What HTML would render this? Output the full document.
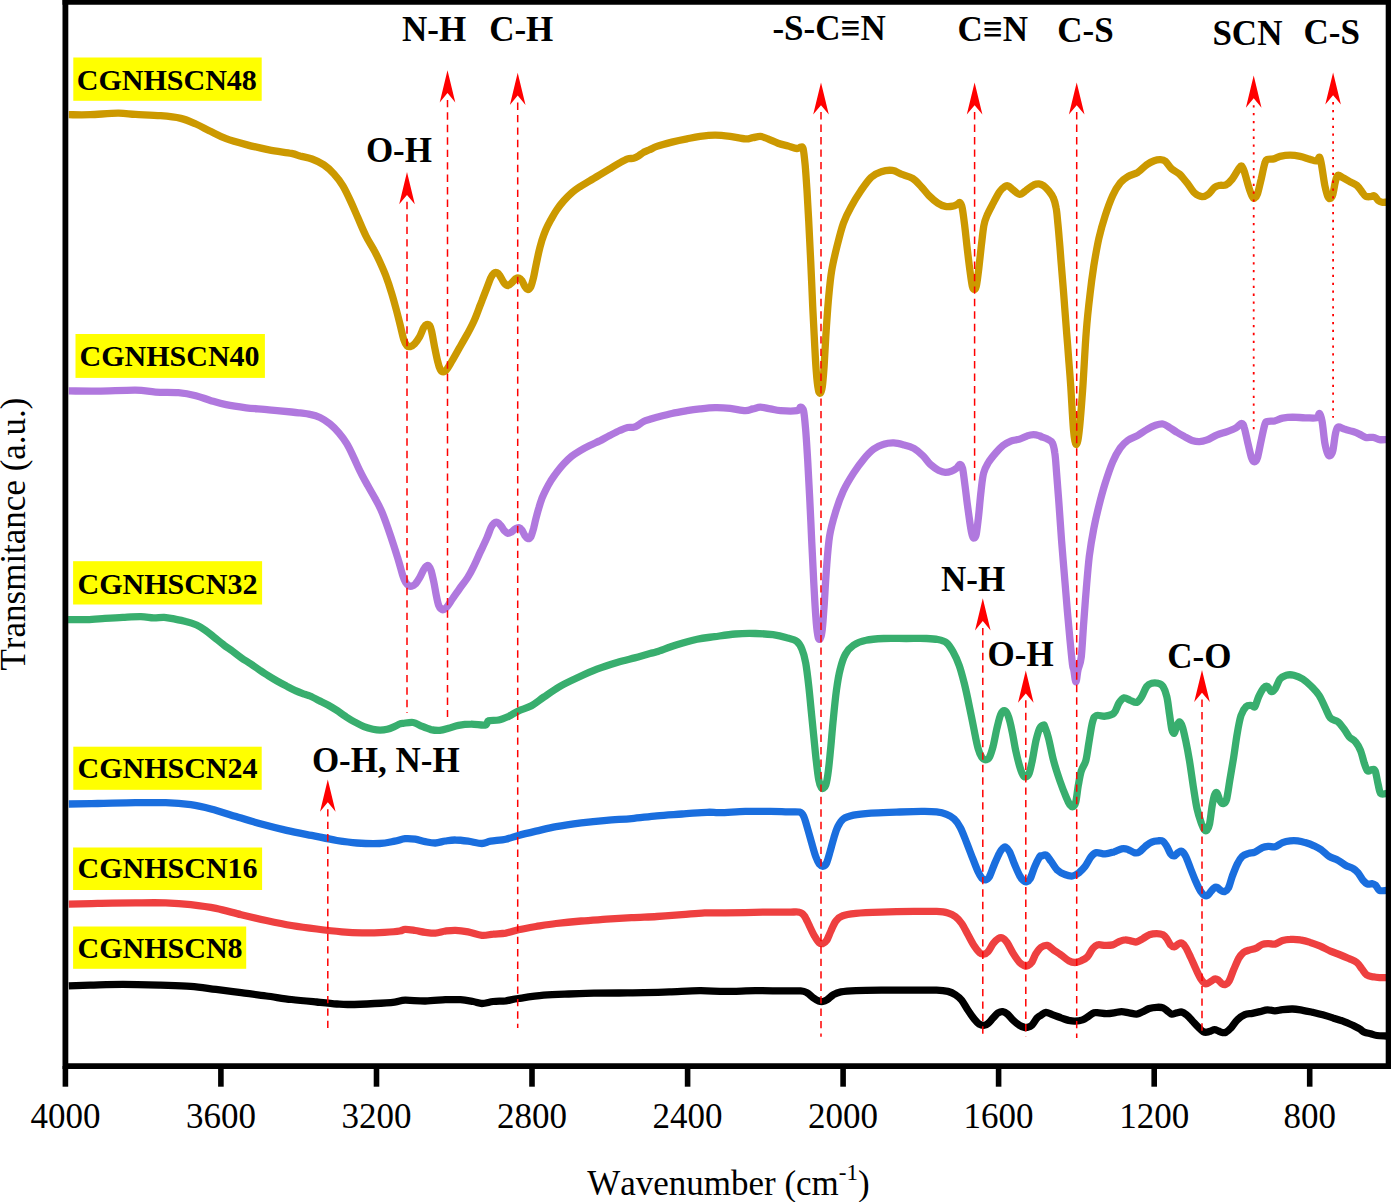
<!DOCTYPE html>
<html><head><meta charset="utf-8"><title>FTIR spectra</title>
<style>
html,body{margin:0;padding:0;background:#fff;}
svg{display:block;}
text{font-family:"Liberation Serif","Times New Roman",serif;fill:#000;font-kerning:none;}
.b{font-weight:bold;}
.c{fill:none;stroke-width:7.3;stroke-linejoin:round;stroke-linecap:butt;}
.d{stroke:#f00;stroke-width:1.5;stroke-dasharray:7.4 5.05;fill:none;}
.dt{stroke:#f00;stroke-width:1.8;stroke-dasharray:2.3 5.55;fill:none;}
.ah{fill:#f00;}
</style></head><body>
<svg width="1391" height="1202" viewBox="0 0 1391 1202">
<rect x="0" y="0" width="1391" height="1202" fill="#fff"/>
<path class="c" stroke="#CC9900" d="M68.8 114.7C72.4 114.7 82.0 114.9 90.2 114.7C98.4 114.4 110.3 113.2 117.9 113.2C125.4 113.1 128.4 114.0 135.5 114.4C142.6 114.8 153.1 115.0 160.7 115.7C168.2 116.3 174.9 117.0 180.8 118.4C186.7 119.8 190.8 121.8 195.9 124.0C200.9 126.2 205.9 129.1 211.0 131.5C216.0 134.0 220.2 136.4 226.1 138.6C232.0 140.8 239.1 142.7 246.2 144.6C253.3 146.5 261.3 148.4 268.9 149.9C276.4 151.4 286.3 152.4 291.5 153.4C296.7 154.4 296.6 155.0 300.0 156.0C303.4 156.9 308.0 157.5 312.0 159.0C316.0 160.5 320.3 162.5 323.9 164.9C327.6 167.4 330.8 170.4 333.9 173.9C337.1 177.4 340.1 181.2 342.9 185.9C345.7 190.6 348.4 196.5 350.9 201.9C353.4 207.2 355.4 212.2 357.9 217.8C360.4 223.5 363.2 230.5 365.9 235.8C368.5 241.1 371.5 245.4 373.8 249.8C376.2 254.1 377.8 257.4 379.8 261.7C381.8 266.1 383.8 270.4 385.8 275.7C387.8 281.0 390.0 287.7 391.8 293.7C393.6 299.6 395.3 306.0 396.8 311.6C398.3 317.3 399.6 322.9 400.8 327.6C401.9 332.2 402.8 336.6 403.8 339.6C404.8 342.6 405.7 344.4 406.8 345.6C407.9 346.7 409.0 346.9 410.4 346.6C411.7 346.2 413.2 345.2 414.8 343.6C416.3 341.9 418.2 339.2 419.7 336.6C421.2 333.9 422.6 329.6 423.7 327.6C424.9 325.6 425.7 324.9 426.7 324.6C427.7 324.3 428.9 324.4 429.7 325.6C430.5 326.8 430.9 327.9 431.7 331.6C432.5 335.2 433.7 342.6 434.7 347.5C435.7 352.5 436.8 357.9 437.7 361.5C438.6 365.2 439.4 367.8 440.3 369.5C441.2 371.2 442.2 371.9 443.3 371.9C444.3 371.9 445.3 371.2 446.7 369.5C448.1 367.8 449.5 365.2 451.7 361.5C453.8 357.9 457.0 352.2 459.6 347.5C462.3 342.9 465.1 338.2 467.6 333.6C470.1 328.9 472.6 324.3 474.6 319.6C476.7 314.9 478.8 308.8 480.0 305.6C481.2 302.5 480.8 303.6 482.0 300.6C483.1 297.6 485.5 291.5 487.0 287.6C488.5 283.8 489.8 280.0 490.9 277.6C492.1 275.3 493.0 274.1 493.9 273.3C494.9 272.4 495.9 272.3 496.9 272.7C497.9 273.1 498.8 274.0 499.9 275.7C501.1 277.3 502.6 281.0 503.9 282.6C505.3 284.3 506.6 285.6 507.9 285.6C509.2 285.6 510.6 283.8 511.9 282.6C513.2 281.5 514.7 279.4 515.9 278.6C517.1 277.9 517.9 277.7 518.9 278.1C519.9 278.4 520.9 279.2 521.9 280.6C522.9 282.1 523.9 285.1 524.9 286.6C525.9 288.1 526.9 289.6 527.9 289.6C528.9 289.6 529.9 288.6 530.9 286.6C531.8 284.6 532.6 281.1 533.5 277.6C534.3 274.2 535.0 270.0 535.9 265.7C536.8 261.4 537.9 255.9 538.9 251.7C539.8 247.6 540.7 244.4 541.8 240.7C543.0 237.1 544.3 233.3 545.8 229.8C547.3 226.3 549.0 223.1 550.8 219.8C552.7 216.5 554.6 213.0 556.8 209.8C559.0 206.6 561.3 203.6 563.8 200.8C566.3 198.0 569.1 195.2 571.8 192.8C574.4 190.5 576.8 188.8 579.8 186.8C582.8 184.9 586.4 182.9 589.7 180.9C593.1 178.9 596.4 176.9 599.7 174.9C603.0 172.9 606.4 170.9 609.7 168.9C613.0 166.9 616.7 164.6 619.7 162.9C622.7 161.2 625.3 159.7 627.6 158.9C630.0 158.1 631.8 158.8 633.6 158.3C635.5 157.8 637.0 156.9 638.6 155.9C640.3 154.9 641.7 153.4 643.6 152.3C645.5 151.3 647.8 150.5 650.0 149.5C652.2 148.6 653.1 147.7 656.8 146.4C660.4 145.2 666.9 143.4 671.9 142.1C676.9 140.9 682.3 139.8 687.0 138.9C691.7 137.9 695.3 137.0 700.0 136.4C704.7 135.8 710.1 135.2 715.1 135.2C720.1 135.2 725.2 135.8 730.2 136.4C735.2 137.0 741.5 138.7 745.3 138.9C749.1 139.2 750.3 138.1 752.8 137.7C755.4 137.3 757.9 136.2 760.4 136.4C762.9 136.6 765.0 137.8 767.9 138.9C770.9 140.1 774.7 142.0 778.0 143.2C781.4 144.4 784.9 145.1 788.1 146.0C791.2 146.9 794.8 148.3 796.9 148.5C799.0 148.7 799.6 147.2 800.6 147.2C801.7 147.3 802.4 146.0 803.2 149.0C803.9 152.0 804.5 158.4 805.2 165.4C805.8 172.3 806.4 181.3 807.0 190.5C807.5 199.7 808.1 209.0 808.7 220.7C809.3 232.5 810.1 246.7 810.7 261.0C811.4 275.2 812.1 292.9 812.7 306.3C813.4 319.7 813.9 330.6 814.5 341.5C815.1 352.4 815.6 363.7 816.3 371.7C816.9 379.7 817.6 385.8 818.3 389.3C818.9 392.9 819.6 393.5 820.3 393.1C820.9 392.7 821.7 391.2 822.3 386.8C822.9 382.4 823.5 375.1 824.1 366.7C824.6 358.3 825.1 347.4 825.8 336.5C826.5 325.6 827.4 312.1 828.3 301.2C829.3 290.3 830.1 280.3 831.6 271.1C833.1 261.8 835.2 253.8 837.1 245.9C839.1 237.9 841.1 229.7 843.4 223.2C845.7 216.7 848.0 212.3 851.0 206.9C853.9 201.4 857.7 195.4 861.0 190.5C864.4 185.6 867.8 180.6 871.1 177.4C874.5 174.3 877.6 172.8 881.2 171.7C884.7 170.5 889.1 170.0 892.5 170.4C895.9 170.8 898.0 172.8 901.3 174.2C904.7 175.5 909.3 176.3 912.6 178.4C916.0 180.5 918.7 183.9 921.4 186.8C924.2 189.6 926.3 192.8 929.0 195.6C931.7 198.3 935.1 201.3 937.8 203.1C940.5 204.9 942.8 205.9 945.3 206.4C947.9 206.9 950.9 206.5 952.9 206.1C954.9 205.8 956.0 204.9 957.2 204.4C958.3 203.8 959.1 202.0 959.9 202.6C960.8 203.2 961.4 204.3 962.2 208.1C963.0 212.0 963.8 218.6 964.7 225.8C965.6 232.9 966.6 243.4 967.5 250.9C968.4 258.5 969.2 265.2 970.0 271.1C970.8 276.9 971.6 283.1 972.3 286.1C973.0 289.2 973.6 289.4 974.3 289.4C975.0 289.4 975.5 289.6 976.3 286.1C977.1 282.7 978.0 275.2 978.8 268.5C979.6 261.8 980.5 253.0 981.3 245.9C982.2 238.8 982.9 230.8 983.8 225.8C984.8 220.7 985.3 219.5 986.9 215.7C988.4 211.9 991.1 207.1 993.2 203.1C995.3 199.1 997.6 194.5 999.5 191.8C1001.3 189.1 1003.0 187.7 1004.5 186.8C1005.9 185.8 1006.8 185.4 1008.2 186.0C1009.7 186.5 1011.4 188.6 1013.3 190.0C1015.2 191.4 1017.5 194.2 1019.6 194.3C1021.7 194.4 1024.5 191.4 1025.9 190.5C1027.2 189.6 1026.5 189.8 1027.8 188.9C1029.1 188.0 1032.0 185.8 1033.8 184.9C1035.6 184.1 1037.1 183.8 1038.8 183.9C1040.4 184.1 1042.1 184.8 1043.8 185.9C1045.4 187.1 1047.2 188.9 1048.8 190.9C1050.4 192.9 1052.1 195.1 1053.3 197.9C1054.6 200.7 1055.4 203.9 1056.1 207.9C1056.9 211.9 1057.2 216.5 1057.7 221.8C1058.3 227.2 1058.8 233.5 1059.3 239.8C1059.9 246.1 1060.4 252.8 1060.9 259.8C1061.5 266.7 1062.1 273.7 1062.7 281.7C1063.4 289.7 1064.1 299.0 1064.7 307.6C1065.4 316.3 1066.1 325.0 1066.7 333.6C1067.4 342.2 1068.1 350.9 1068.7 359.5C1069.4 368.2 1069.9 373.7 1070.7 385.5C1071.5 397.2 1072.6 420.1 1073.5 430.0C1074.4 439.9 1075.4 444.6 1076.4 444.6C1077.4 444.6 1078.3 439.0 1079.3 430.0C1080.3 421.0 1081.4 406.8 1082.6 390.4C1083.8 374.0 1085.0 347.4 1086.3 331.3C1087.5 315.2 1088.8 304.5 1090.1 293.6C1091.3 282.7 1092.4 275.1 1093.8 265.9C1095.3 256.7 1097.0 246.6 1098.9 238.2C1100.8 229.8 1102.9 222.7 1105.2 215.6C1107.5 208.4 1110.2 200.9 1112.7 195.4C1115.2 190.0 1117.8 186.0 1120.3 182.8C1122.8 179.7 1124.9 178.3 1127.8 176.6C1130.7 174.8 1134.7 174.2 1137.9 172.3C1141.0 170.3 1144.0 166.7 1146.7 164.7C1149.4 162.8 1151.9 161.5 1154.2 160.7C1156.5 159.9 1158.6 159.6 1160.5 159.7C1162.4 159.8 1163.7 159.9 1165.6 161.4C1167.4 163.0 1169.5 166.9 1171.8 169.0C1174.2 171.1 1176.9 171.7 1179.4 174.0C1181.9 176.3 1184.4 179.7 1187.0 182.8C1189.5 186.0 1192.0 190.6 1194.5 192.9C1197.0 195.2 1199.7 196.5 1202.0 196.7C1204.4 196.9 1206.2 195.7 1208.3 194.2C1210.4 192.6 1212.7 188.8 1214.6 187.4C1216.5 185.9 1217.8 185.8 1219.7 185.4C1221.5 184.9 1223.9 185.9 1226.0 184.9C1228.0 183.8 1230.1 181.7 1232.2 179.1C1234.3 176.4 1237.0 171.2 1238.5 169.0C1240.1 166.8 1240.6 165.6 1241.5 166.0C1242.5 166.4 1243.1 168.1 1244.3 171.5C1245.5 175.0 1247.3 182.4 1248.6 186.6C1249.9 190.8 1251.3 194.8 1252.4 196.7C1253.4 198.6 1254.1 198.4 1254.9 197.9C1255.7 197.5 1256.4 197.3 1257.4 194.2C1258.5 191.0 1259.9 184.3 1261.2 179.1C1262.4 173.8 1263.9 166.0 1265.0 162.7C1266.0 159.4 1266.0 160.1 1267.5 159.4C1268.9 158.8 1271.7 159.4 1273.8 158.9C1275.9 158.4 1277.3 157.0 1280.0 156.4C1282.8 155.8 1286.8 155.2 1290.1 155.2C1293.5 155.2 1296.8 155.7 1300.2 156.4C1303.5 157.1 1307.5 158.7 1310.2 159.4C1313.0 160.2 1315.0 161.3 1316.5 160.9C1318.1 160.6 1318.7 156.5 1319.6 157.2C1320.4 157.9 1320.7 160.5 1321.6 165.2C1322.4 169.9 1323.8 180.1 1324.8 185.4C1325.9 190.6 1326.9 194.5 1327.9 196.7C1328.8 198.9 1329.5 198.9 1330.4 198.4C1331.2 198.0 1332.1 197.0 1332.9 194.2C1333.7 191.4 1334.6 184.7 1335.4 181.6C1336.2 178.4 1336.7 175.9 1337.9 175.3C1339.2 174.7 1340.9 176.7 1343.0 177.8C1345.1 178.9 1348.2 180.8 1350.5 182.1C1352.8 183.3 1354.9 183.8 1356.8 185.4C1358.7 187.0 1360.4 189.8 1361.8 191.7C1363.3 193.5 1364.1 195.3 1365.6 196.2C1367.1 197.0 1369.2 196.7 1370.6 196.7C1372.1 196.6 1373.2 195.3 1374.4 195.9C1375.7 196.6 1376.9 199.4 1378.2 200.5C1379.4 201.5 1380.6 201.9 1382.0 202.2C1383.3 202.5 1385.5 202.2 1386.2 202.2"/>
<path class="c" stroke="#B078DE" d="M68.8 390.9C73.6 390.9 86.6 391.3 97.8 391.1C108.9 391.0 125.8 390.0 135.5 390.1C145.1 390.3 148.5 391.7 155.6 392.1C162.8 392.6 171.6 392.1 178.3 392.6C185.0 393.2 190.4 394.3 195.9 395.7C201.3 397.0 205.9 399.2 211.0 400.7C216.0 402.2 220.2 403.6 226.1 404.7C232.0 405.9 239.1 406.9 246.2 407.8C253.3 408.6 261.3 409.0 268.9 409.8C276.4 410.5 286.3 411.5 291.5 412.0C296.7 412.6 296.9 412.6 300.0 412.9C303.1 413.3 306.7 413.6 310.0 414.4C313.3 415.1 316.6 415.9 320.0 417.5C323.3 419.1 326.8 421.4 329.9 423.9C333.1 426.5 336.1 429.6 338.9 432.9C341.7 436.2 344.4 439.7 346.9 443.9C349.4 448.0 351.6 453.0 353.9 457.9C356.2 462.7 358.5 468.2 360.9 472.8C363.2 477.5 365.4 481.3 367.9 485.8C370.3 490.3 373.5 495.4 375.8 499.8C378.2 504.1 379.8 507.1 381.8 511.7C383.8 516.4 385.8 522.0 387.8 527.7C389.8 533.4 392.0 540.0 393.8 545.7C395.6 551.3 397.3 556.6 398.8 561.6C400.3 566.6 401.6 572.1 402.8 575.6C403.9 579.1 404.8 580.9 405.8 582.6C406.8 584.2 407.8 585.0 408.8 585.6C409.7 586.2 410.3 586.4 411.4 586.2C412.5 585.9 414.0 585.4 415.4 584.0C416.7 582.5 418.3 580.0 419.7 577.6C421.1 575.2 422.6 571.5 423.7 569.6C424.9 567.7 425.9 566.6 426.7 566.0C427.6 565.4 428.0 565.2 428.7 566.0C429.5 566.8 430.3 568.0 431.1 570.6C431.9 573.2 432.8 577.4 433.7 581.6C434.6 585.7 435.5 591.6 436.3 595.5C437.1 599.5 437.9 603.3 438.7 605.5C439.5 607.8 440.5 608.5 441.3 609.1C442.1 609.8 442.7 610.0 443.7 609.5C444.7 609.1 445.8 608.4 447.3 606.5C448.8 604.7 450.6 601.5 452.7 598.5C454.7 595.5 457.2 592.1 459.6 588.6C462.1 585.1 465.3 581.2 467.6 577.6C470.0 573.9 471.6 570.8 473.6 566.6C475.7 562.5 478.6 555.6 480.0 552.6C481.4 549.6 480.8 551.1 482.0 548.6C483.1 546.1 485.5 541.1 487.0 537.6C488.5 534.2 489.8 530.1 490.9 527.7C492.1 525.3 492.9 524.1 493.9 523.3C495.0 522.4 496.4 522.1 497.5 522.5C498.7 522.9 499.8 524.3 500.9 525.7C502.1 527.0 503.2 529.4 504.3 530.7C505.5 531.9 506.7 533.1 507.9 533.3C509.2 533.4 510.6 532.4 511.9 531.7C513.2 530.9 514.3 529.3 515.5 528.7C516.7 528.0 517.8 527.4 518.9 527.7C520.0 527.9 520.9 528.7 521.9 530.1C522.9 531.4 523.9 534.2 524.9 535.7C525.9 537.1 526.9 538.5 527.9 538.6C528.9 538.8 529.9 538.3 530.9 536.7C531.8 535.0 532.6 531.7 533.5 528.7C534.3 525.7 535.0 522.2 535.9 518.7C536.8 515.2 537.9 511.0 538.9 507.7C539.8 504.4 540.7 501.7 541.8 498.7C543.0 495.7 544.3 492.8 545.8 489.8C547.3 486.8 549.0 483.7 550.8 480.8C552.7 477.9 554.6 475.0 556.8 472.2C559.0 469.4 561.3 466.5 563.8 463.8C566.3 461.2 569.1 458.4 571.8 456.2C574.4 454.1 576.8 452.6 579.8 450.8C582.8 449.0 586.4 447.1 589.7 445.5C593.1 443.8 596.4 442.5 599.7 440.9C603.0 439.2 606.4 437.2 609.7 435.5C613.0 433.8 616.7 431.8 619.7 430.5C622.7 429.2 625.3 428.0 627.6 427.5C630.0 427.0 631.8 427.7 633.6 427.3C635.5 426.9 637.0 425.9 638.6 424.9C640.3 423.9 641.7 422.4 643.6 421.5C645.5 420.6 647.8 420.0 650.0 419.3C652.2 418.6 653.1 418.2 656.8 417.2C660.4 416.3 666.9 414.6 671.9 413.5C676.9 412.4 682.3 411.5 687.0 410.7C691.7 409.9 695.3 409.4 700.0 408.9C704.7 408.4 710.1 407.8 715.1 407.7C720.1 407.6 725.2 407.9 730.2 408.4C735.2 408.9 741.5 410.6 745.3 410.7C749.1 410.8 750.3 409.5 752.8 408.9C755.4 408.4 757.5 407.2 760.4 407.2C763.3 407.2 767.1 408.4 770.5 408.9C773.8 409.5 776.1 410.4 780.5 410.7C784.9 411.0 793.5 411.3 796.9 410.7C800.2 410.1 799.5 407.1 800.6 407.2C801.8 407.3 802.8 407.6 803.7 411.4C804.5 415.3 805.0 422.2 805.7 430.3C806.4 438.5 807.0 449.2 807.7 460.5C808.4 471.8 809.0 484.8 809.7 498.3C810.4 511.7 811.1 527.2 811.7 541.0C812.4 554.9 813.1 568.7 813.7 581.3C814.4 593.9 815.1 607.5 815.8 616.5C816.4 625.6 817.1 631.6 817.8 635.4C818.4 639.2 819.1 639.8 819.8 639.2C820.5 638.6 821.3 637.1 822.0 631.6C822.8 626.2 823.3 616.5 824.1 606.5C824.8 596.4 825.4 583.0 826.3 571.2C827.2 559.5 828.0 546.1 829.6 536.0C831.2 525.9 833.6 518.4 835.9 510.9C838.2 503.3 840.5 497.0 843.4 490.7C846.4 484.4 850.1 478.4 853.5 473.1C856.9 467.9 860.2 463.3 863.6 459.3C866.9 455.3 870.3 451.7 873.6 449.2C877.0 446.7 880.3 445.2 883.7 444.2C887.0 443.1 890.4 442.8 893.8 442.9C897.1 443.0 900.5 444.0 903.8 444.9C907.2 445.8 910.7 446.7 913.9 448.4C917.0 450.2 920.0 452.8 922.7 455.5C925.4 458.1 927.5 461.8 930.2 464.3C933.0 466.8 936.5 469.2 939.0 470.6C941.6 471.9 943.2 472.3 945.3 472.4C947.4 472.4 949.8 471.8 951.6 471.1C953.5 470.4 955.3 469.2 956.7 468.1C958.1 466.9 959.0 464.3 959.9 464.3C960.9 464.3 961.7 464.9 962.5 468.1C963.3 471.2 963.9 477.3 964.7 483.2C965.5 489.0 966.4 496.6 967.2 503.3C968.1 510.0 969.2 518.1 970.0 523.4C970.8 528.8 971.6 533.1 972.3 535.5C973.0 537.9 973.6 538.3 974.3 538.0C975.0 537.8 975.6 537.7 976.3 534.0C977.0 530.3 977.8 523.1 978.6 515.9C979.4 508.7 980.2 497.8 981.1 490.7C981.9 483.6 982.4 477.7 983.6 473.1C984.8 468.5 986.1 466.4 988.1 463.0C990.1 459.7 993.2 455.9 995.7 453.0C998.2 450.0 1000.7 447.4 1003.2 445.4C1005.7 443.5 1008.0 442.2 1010.8 441.1C1013.5 440.1 1016.9 440.0 1019.6 439.1C1022.3 438.2 1024.8 436.6 1027.1 435.9C1029.4 435.1 1031.3 434.6 1033.4 434.6C1035.5 434.6 1038.4 435.5 1039.7 435.9C1041.0 436.2 1039.7 436.1 1041.0 436.6C1042.3 437.2 1045.4 438.1 1047.3 439.1C1049.2 440.2 1051.1 440.6 1052.3 442.9C1053.6 445.2 1054.1 447.9 1054.8 453.0C1055.6 458.0 1055.9 464.3 1056.6 473.1C1057.3 481.9 1058.3 494.5 1059.1 505.8C1060.0 517.1 1060.7 528.5 1061.6 541.0C1062.6 553.6 1063.9 569.6 1064.9 581.3C1065.9 593.1 1066.6 601.9 1067.4 611.5C1068.3 621.1 1069.1 630.4 1069.9 639.2C1070.8 648.0 1071.8 659.2 1072.5 664.4C1073.1 669.5 1073.2 667.1 1073.8 670.0C1074.4 672.9 1075.2 681.8 1075.9 681.8C1076.6 681.8 1077.1 674.2 1078.0 670.0C1078.9 665.8 1080.3 664.9 1081.3 656.8C1082.2 648.7 1082.9 632.9 1083.8 621.6C1084.6 610.2 1085.4 599.8 1086.3 588.9C1087.2 578.0 1088.1 566.2 1089.3 556.1C1090.6 546.1 1092.2 536.9 1093.8 528.5C1095.4 520.1 1097.0 513.4 1098.9 505.8C1100.8 498.3 1102.9 490.5 1105.2 483.2C1107.5 475.8 1110.2 467.7 1112.7 461.8C1115.2 455.9 1117.8 451.5 1120.3 447.9C1122.8 444.4 1124.9 442.5 1127.8 440.4C1130.7 438.3 1134.7 437.2 1137.9 435.4C1141.0 433.6 1143.8 431.2 1146.7 429.6C1149.6 427.9 1152.8 426.2 1155.5 425.3C1158.2 424.4 1160.7 423.7 1163.0 424.0C1165.3 424.4 1167.0 425.9 1169.3 427.3C1171.6 428.7 1174.4 430.8 1176.9 432.3C1179.4 433.9 1181.9 435.3 1184.4 436.6C1186.9 438.0 1189.5 439.6 1192.0 440.4C1194.5 441.2 1197.0 441.7 1199.5 441.6C1202.0 441.6 1204.1 441.0 1207.1 439.9C1210.0 438.8 1213.8 436.2 1217.1 434.9C1220.5 433.5 1224.1 432.8 1227.2 431.6C1230.4 430.4 1233.6 429.2 1236.0 427.8C1238.4 426.4 1240.2 423.3 1241.5 423.3C1242.9 423.3 1243.3 424.5 1244.3 427.8C1245.4 431.1 1246.6 437.9 1247.8 442.9C1249.1 447.9 1250.5 454.9 1251.6 458.0C1252.7 461.2 1253.4 461.8 1254.4 461.8C1255.4 461.8 1256.3 461.6 1257.4 458.0C1258.5 454.4 1259.9 446.1 1261.2 440.4C1262.4 434.7 1263.9 427.2 1265.0 424.0C1266.0 420.9 1265.8 422.1 1267.5 421.5C1269.1 421.0 1272.5 421.3 1275.0 420.8C1277.5 420.2 1279.6 418.8 1282.6 418.2C1285.5 417.7 1288.9 417.3 1292.6 417.2C1296.4 417.2 1301.2 417.7 1305.2 417.8C1309.2 417.8 1314.2 418.5 1316.5 417.8C1318.9 417.0 1318.6 412.8 1319.6 413.5C1320.5 414.1 1321.2 416.6 1322.1 421.5C1323.0 426.4 1323.9 437.5 1324.8 442.9C1325.8 448.4 1326.9 452.1 1327.9 454.2C1328.8 456.3 1329.5 456.1 1330.4 455.5C1331.2 454.9 1332.1 454.0 1332.9 450.5C1333.7 446.9 1334.6 438.0 1335.4 434.1C1336.2 430.2 1336.5 427.9 1337.9 427.1C1339.4 426.2 1341.7 428.3 1344.2 429.1C1346.7 429.8 1350.5 430.8 1353.0 431.6C1355.5 432.4 1357.2 433.1 1359.3 434.1C1361.4 435.1 1363.3 436.8 1365.6 437.4C1367.9 437.9 1370.9 437.0 1373.2 437.4C1375.5 437.7 1377.3 439.3 1379.5 439.6C1381.6 440.0 1385.1 439.6 1386.2 439.6"/>
<path class="c" stroke="#38AE6E" d="M68.1 619.6C71.2 619.6 80.8 619.9 87.0 619.6C93.1 619.4 98.9 618.8 104.9 618.4C110.9 618.0 116.9 617.6 122.9 617.3C128.9 617.0 135.8 616.5 140.9 616.6C146.0 616.7 149.6 617.7 153.5 617.9C157.4 618.0 160.6 617.1 164.2 617.3C167.8 617.5 171.4 618.4 175.0 619.1C178.6 619.8 182.2 620.5 185.8 621.5C189.4 622.4 193.3 623.6 196.6 625.0C199.9 626.5 202.6 628.3 205.6 630.4C208.6 632.5 211.6 635.2 214.6 637.6C217.6 640.0 220.6 642.6 223.6 644.8C226.5 647.1 229.5 648.9 232.5 651.1C235.5 653.3 238.5 655.8 241.5 657.9C244.5 660.0 247.5 661.7 250.5 663.7C253.5 665.7 256.5 667.9 259.5 670.0C262.5 672.0 265.5 674.0 268.5 675.9C271.5 677.8 274.5 679.6 277.5 681.3C280.5 683.0 283.5 684.6 286.5 686.1C289.5 687.7 292.4 689.3 295.4 690.6C298.4 692.0 302.0 693.3 304.4 694.2C306.9 695.1 307.6 695.0 310.0 696.0C312.4 697.1 316.0 699.0 318.9 700.5C321.9 702.0 324.9 703.4 327.9 705.0C330.9 706.7 333.9 708.5 336.9 710.4C339.9 712.4 342.9 714.8 345.9 716.7C348.9 718.7 351.9 720.5 354.9 722.1C357.9 723.7 360.9 725.4 363.9 726.6C366.9 727.8 370.2 728.7 372.9 729.3C375.6 729.9 377.7 730.2 380.1 730.2C382.4 730.2 384.8 729.9 387.2 729.3C389.6 728.7 392.3 727.5 394.4 726.6C396.6 725.7 398.5 724.4 400.0 723.9C401.5 723.4 401.0 723.5 403.2 723.3C405.4 723.1 410.3 722.1 413.2 722.5C416.2 723.0 417.9 724.6 420.8 725.8C423.7 727.0 427.7 728.8 430.9 729.6C434.0 730.3 436.7 730.6 439.7 730.4C442.6 730.1 445.3 729.2 448.5 728.3C451.6 727.5 454.8 726.0 458.5 725.3C462.3 724.6 466.7 724.1 471.1 724.1C475.5 724.0 482.0 725.6 484.9 725.1C487.9 724.5 486.4 721.6 488.7 720.8C491.0 720.0 495.4 720.8 498.8 720.0C502.1 719.3 505.5 717.8 508.9 716.3C512.2 714.7 515.1 712.5 518.9 710.7C522.7 709.0 527.3 708.0 531.5 705.7C535.7 703.4 539.5 700.0 544.1 696.9C548.7 693.7 553.7 690.0 559.2 686.8C564.6 683.7 570.5 680.9 576.8 678.0C583.1 675.1 590.2 671.8 596.9 669.2C603.6 666.6 610.8 664.3 617.1 662.4C623.4 660.5 629.2 659.3 634.7 657.9C640.2 656.4 646.3 654.6 650.0 653.6C653.7 652.6 652.3 653.2 656.8 651.8C661.3 650.3 670.2 646.8 676.9 644.7C683.6 642.6 690.8 640.5 697.1 639.2C703.4 637.8 708.3 637.5 714.7 636.7C721.0 635.8 728.5 634.5 735.2 634.0C742.0 633.4 749.1 633.3 755.4 633.5C761.6 633.6 767.7 634.0 773.0 634.7C778.2 635.4 782.8 636.6 786.8 637.8C790.8 638.9 794.4 639.6 796.9 641.5C799.4 643.4 800.4 645.5 801.9 649.1C803.4 652.6 804.6 656.8 805.7 662.9C806.8 669.0 807.8 677.6 808.7 685.6C809.6 693.5 810.4 702.3 811.2 710.7C812.1 719.1 812.9 727.5 813.7 735.9C814.6 744.3 815.4 753.7 816.3 761.0C817.1 768.4 817.9 775.5 818.8 779.9C819.6 784.3 820.5 786.1 821.3 787.5C822.0 788.9 822.5 788.6 823.3 788.2C824.1 787.8 825.0 787.8 825.8 785.0C826.7 782.1 827.5 777.6 828.3 771.1C829.2 764.6 830.0 754.8 830.9 746.0C831.7 737.1 832.4 727.5 833.4 718.3C834.3 709.0 835.3 698.8 836.4 690.6C837.5 682.4 838.6 675.3 840.2 669.2C841.7 663.1 843.2 658.1 845.5 654.1C847.7 650.1 850.1 647.6 853.5 645.3C856.9 643.0 861.0 641.4 866.1 640.3C871.1 639.1 877.0 638.8 883.7 638.5C890.4 638.2 899.2 638.5 906.3 638.5C913.5 638.5 921.2 638.3 926.5 638.5C931.7 638.7 934.4 638.8 937.8 639.5C941.2 640.2 944.1 640.8 946.6 642.8C949.1 644.8 950.8 647.8 952.9 651.6C955.0 655.4 957.3 660.2 959.2 665.4C961.1 670.7 962.5 676.3 964.2 683.0C965.9 689.8 967.6 697.7 969.2 705.7C970.9 713.7 972.8 723.7 974.3 730.9C975.7 738.0 976.8 744.1 978.1 748.5C979.3 752.9 980.6 755.4 981.8 757.3C983.1 759.2 984.4 759.8 985.6 759.8C986.9 759.8 988.1 759.6 989.4 757.3C990.6 755.0 991.9 750.8 993.2 746.0C994.4 741.1 995.7 733.6 996.9 728.3C998.2 723.1 999.4 717.4 1000.7 714.5C1002.0 711.6 1003.2 710.5 1004.5 710.7C1005.7 710.9 1007.0 712.4 1008.2 715.8C1009.5 719.1 1010.8 725.0 1012.0 730.9C1013.3 736.7 1014.5 745.1 1015.8 751.0C1017.1 756.9 1018.4 762.1 1019.6 766.1C1020.8 770.1 1021.8 773.1 1022.9 774.9C1023.9 776.7 1024.8 777.1 1025.9 776.9C1026.9 776.7 1028.1 776.3 1029.1 773.6C1030.2 771.0 1031.0 766.5 1032.2 761.0C1033.3 755.6 1034.7 746.4 1035.9 740.9C1037.2 735.5 1038.5 731.0 1039.7 728.3C1041.0 725.7 1042.6 725.3 1043.5 725.1C1044.3 724.8 1043.9 724.6 1044.8 726.8C1045.6 729.0 1047.1 732.5 1048.5 738.1C1050.0 743.8 1051.7 753.7 1053.6 760.8C1055.5 767.9 1057.8 774.8 1059.9 780.9C1062.0 787.0 1064.5 793.3 1066.2 797.3C1067.8 801.3 1068.8 803.3 1069.9 804.8C1071.1 806.4 1072.0 807.0 1073.0 806.6C1073.9 806.2 1074.8 805.7 1075.7 802.3C1076.6 798.9 1077.3 791.2 1078.2 786.0C1079.2 780.7 1080.0 775.0 1081.3 770.9C1082.5 766.7 1084.5 765.4 1085.8 760.8C1087.0 756.2 1087.7 749.7 1088.8 743.2C1089.9 736.7 1091.3 726.4 1092.6 721.8C1093.8 717.2 1094.3 716.4 1096.4 715.5C1098.5 714.6 1102.2 716.7 1105.2 716.2C1108.1 715.8 1111.7 715.2 1114.0 713.0C1116.3 710.7 1117.3 705.4 1119.0 702.9C1120.7 700.4 1122.2 698.3 1124.0 697.9C1125.9 697.5 1128.2 699.6 1130.3 700.4C1132.4 701.1 1134.7 703.0 1136.6 702.4C1138.5 701.8 1140.0 699.3 1141.7 696.6C1143.3 694.0 1145.0 688.8 1146.7 686.5C1148.4 684.3 1149.8 683.8 1151.7 683.3C1153.6 682.7 1156.1 682.7 1158.0 683.3C1159.9 683.8 1161.6 684.3 1163.0 686.5C1164.5 688.8 1165.8 692.2 1166.8 696.6C1167.9 701.0 1168.5 707.5 1169.3 713.0C1170.2 718.4 1171.0 726.0 1171.8 729.3C1172.7 732.7 1173.5 733.7 1174.4 733.1C1175.2 732.5 1176.0 727.4 1176.9 725.6C1177.7 723.7 1178.5 721.6 1179.4 721.8C1180.3 722.0 1181.4 723.7 1182.4 726.8C1183.5 730.0 1184.5 735.0 1185.7 740.6C1186.9 746.3 1188.2 753.2 1189.5 760.8C1190.7 768.3 1192.0 778.0 1193.2 786.0C1194.5 793.9 1195.6 802.3 1197.0 808.6C1198.4 814.9 1200.3 820.1 1201.5 823.7C1202.8 827.3 1203.6 828.9 1204.6 830.0C1205.5 831.0 1206.2 831.0 1207.1 830.0C1207.9 828.9 1208.8 827.7 1209.6 823.7C1210.4 819.7 1211.3 810.9 1212.1 806.1C1212.9 801.3 1213.8 796.9 1214.6 794.8C1215.5 792.6 1216.2 791.9 1217.1 793.0C1218.1 794.0 1219.1 799.3 1220.2 801.0C1221.2 802.8 1222.4 803.8 1223.4 803.6C1224.5 803.3 1225.4 803.6 1226.5 799.8C1227.5 796.0 1228.6 787.8 1229.7 780.9C1230.9 774.0 1232.2 766.2 1233.5 758.3C1234.8 750.3 1236.0 740.2 1237.3 733.1C1238.5 726.0 1239.6 719.9 1241.0 715.5C1242.5 711.1 1244.4 708.4 1246.1 706.7C1247.8 705.0 1249.7 705.4 1251.1 705.4C1252.6 705.4 1253.6 708.1 1254.9 706.7C1256.1 705.2 1257.2 699.8 1258.7 696.6C1260.1 693.5 1262.2 689.5 1263.7 687.8C1265.2 686.1 1266.2 685.9 1267.5 686.5C1268.7 687.2 1270.0 691.2 1271.2 691.6C1272.5 692.0 1273.6 691.2 1275.0 689.1C1276.5 687.0 1278.2 681.3 1280.0 679.0C1281.9 676.7 1284.0 675.9 1286.3 675.2C1288.6 674.6 1291.2 674.6 1293.9 675.2C1296.6 675.9 1299.8 677.1 1302.7 679.0C1305.6 680.9 1308.8 683.8 1311.5 686.5C1314.2 689.3 1316.8 691.8 1319.1 695.4C1321.4 698.9 1323.5 704.2 1325.3 707.9C1327.2 711.7 1328.3 715.7 1330.4 718.0C1332.5 720.3 1335.6 719.9 1337.9 721.8C1340.2 723.7 1342.3 726.8 1344.2 729.3C1346.1 731.8 1347.4 734.8 1349.2 736.9C1351.1 739.0 1353.7 739.6 1355.5 741.9C1357.4 744.2 1359.1 747.2 1360.6 750.7C1362.0 754.3 1363.2 759.9 1364.3 763.3C1365.5 766.7 1366.4 769.8 1367.6 770.9C1368.9 771.9 1370.6 769.6 1371.9 769.6C1373.2 769.6 1374.1 768.3 1375.2 770.9C1376.2 773.4 1377.3 780.9 1378.2 784.7C1379.1 788.5 1379.4 792.0 1380.7 793.5C1382.1 795.0 1385.3 793.5 1386.2 793.5"/>
<path class="c" stroke="#1A6EDE" d="M68.8 804.0C73.6 803.9 86.6 803.7 97.8 803.5C108.9 803.3 124.2 802.8 135.5 802.7C146.8 802.6 156.5 802.4 165.7 802.7C174.9 803.0 183.3 803.7 190.8 804.7C198.4 805.8 203.4 807.0 211.0 809.0C218.5 811.0 227.8 814.0 236.1 816.5C244.5 819.1 252.9 821.8 261.3 824.1C269.7 826.4 278.1 828.5 286.5 830.4C294.9 832.3 303.3 833.8 311.6 835.4C320.0 837.1 329.3 839.2 336.8 840.5C344.3 841.7 349.8 842.5 356.9 843.0C364.1 843.5 373.3 843.8 379.6 843.5C385.9 843.2 390.4 842.0 394.7 841.2C398.9 840.4 401.7 839.0 405.2 838.7C408.6 838.4 411.9 838.7 415.2 839.2C418.6 839.7 421.9 841.1 425.3 841.7C428.6 842.3 432.0 843.1 435.4 843.0C438.7 842.8 442.1 841.5 445.4 841.0C448.8 840.5 451.7 839.9 455.5 840.0C459.3 840.0 463.7 840.6 468.1 841.2C472.5 841.8 478.1 843.5 481.9 843.5C485.7 843.5 486.7 841.9 490.7 841.2C494.7 840.5 501.2 840.2 505.8 839.2C510.4 838.2 513.4 836.8 518.4 835.4C523.4 834.1 529.7 832.6 536.0 831.1C542.3 829.7 548.6 828.0 556.1 826.6C563.7 825.2 572.9 823.9 581.3 822.8C589.7 821.8 598.1 821.0 606.5 820.3C614.9 819.6 623.3 819.3 631.6 818.6C640.0 817.8 648.4 816.6 656.8 815.8C665.2 815.0 673.6 814.6 682.0 814.0C690.3 813.5 700.8 812.5 707.1 812.3C713.5 812.0 713.8 812.8 720.1 812.6C726.5 812.5 736.9 811.6 745.3 811.4C753.7 811.2 763.3 811.3 770.5 811.4C777.6 811.5 783.2 811.8 788.1 811.9C792.9 812.0 796.8 811.4 799.4 812.1C802.0 812.9 802.3 813.6 803.7 816.4C805.1 819.2 806.3 824.4 807.7 829.0C809.1 833.6 810.6 839.5 812.0 844.1C813.3 848.7 814.5 853.3 815.8 856.7C817.0 860.0 818.3 862.6 819.5 864.2C820.8 865.8 822.1 866.4 823.3 866.2C824.5 866.0 825.4 865.4 826.6 863.0C827.7 860.5 828.9 855.8 830.1 851.6C831.3 847.4 832.6 842.0 833.9 837.8C835.2 833.6 836.3 829.6 837.9 826.5C839.5 823.3 840.8 820.8 843.4 818.9C846.0 817.0 848.9 816.1 853.5 815.1C858.1 814.2 864.0 813.6 871.1 813.1C878.2 812.6 887.9 812.4 896.3 812.1C904.7 811.8 914.7 811.4 921.4 811.4C928.2 811.3 932.3 811.4 936.5 811.9C940.7 812.4 943.7 813.2 946.6 814.4C949.5 815.6 951.8 816.7 954.1 818.9C956.5 821.1 958.3 823.7 960.4 827.7C962.5 831.7 964.6 837.6 966.7 842.8C968.8 848.1 971.1 854.4 973.0 859.2C974.9 864.0 976.6 868.6 978.1 871.8C979.5 874.9 980.6 876.7 981.8 878.1C983.1 879.4 984.4 880.0 985.6 879.8C986.9 879.6 987.9 879.4 989.4 876.8C990.8 874.2 992.7 868.2 994.4 864.2C996.1 860.2 998.0 855.6 999.5 852.9C1000.9 850.2 1002.2 848.8 1003.2 847.9C1004.3 846.9 1004.7 846.5 1005.7 847.1C1006.8 847.7 1008.0 848.8 1009.5 851.6C1011.0 854.5 1012.9 860.2 1014.5 864.2C1016.2 868.2 1018.1 872.8 1019.6 875.5C1021.0 878.3 1022.2 879.5 1023.4 880.6C1024.5 881.6 1025.5 882.1 1026.6 881.8C1027.8 881.5 1028.8 881.3 1030.2 878.8C1031.5 876.3 1033.1 870.4 1034.7 866.7C1036.3 863.0 1038.7 858.4 1039.7 856.7C1040.8 854.9 1039.9 856.7 1041.0 856.4C1042.1 856.2 1044.4 854.3 1046.0 855.1C1047.7 856.0 1049.2 858.9 1051.1 861.4C1053.0 864.0 1055.1 868.1 1057.4 870.2C1059.7 872.4 1062.4 873.6 1064.9 874.5C1067.4 875.5 1070.1 876.3 1072.5 876.0C1074.8 875.7 1076.7 874.4 1078.8 872.8C1080.8 871.2 1082.9 869.2 1085.0 866.5C1087.1 863.7 1089.4 858.7 1091.3 856.4C1093.2 854.1 1094.1 853.0 1096.4 852.6C1098.7 852.2 1102.2 854.0 1105.2 853.9C1108.1 853.8 1111.2 852.7 1114.0 851.9C1116.7 851.0 1119.2 849.3 1121.5 848.9C1123.8 848.4 1125.7 848.7 1127.8 849.4C1129.9 850.0 1132.2 852.2 1134.1 852.6C1136.0 853.1 1137.3 853.2 1139.1 852.1C1141.0 851.1 1143.3 848.0 1145.4 846.3C1147.5 844.7 1149.6 843.0 1151.7 842.1C1153.8 841.1 1156.1 840.9 1158.0 840.8C1159.9 840.7 1161.6 840.4 1163.0 841.3C1164.5 842.2 1165.6 844.2 1166.8 846.3C1168.1 848.4 1169.3 852.3 1170.6 853.9C1171.8 855.5 1173.1 856.1 1174.4 855.9C1175.6 855.7 1176.9 853.4 1178.1 852.6C1179.4 851.9 1180.7 850.7 1181.9 851.4C1183.2 852.0 1184.2 853.5 1185.7 856.4C1187.2 859.3 1189.0 864.8 1190.7 869.0C1192.4 873.2 1194.1 877.8 1195.8 881.6C1197.4 885.3 1199.3 889.3 1200.8 891.6C1202.3 893.9 1203.4 894.8 1204.6 895.4C1205.7 896.0 1206.5 896.0 1207.6 895.4C1208.6 894.8 1209.8 892.9 1210.8 891.6C1211.9 890.4 1213.1 888.6 1214.1 887.9C1215.2 887.1 1216.0 886.9 1217.1 887.4C1218.3 887.8 1219.7 889.7 1220.9 890.4C1222.2 891.1 1223.4 892.1 1224.7 891.6C1225.9 891.2 1227.2 890.4 1228.5 887.9C1229.7 885.3 1230.8 880.5 1232.2 876.5C1233.7 872.6 1235.6 867.3 1237.3 864.0C1239.0 860.6 1240.4 858.2 1242.3 856.4C1244.2 854.6 1246.5 854.1 1248.6 853.4C1250.7 852.7 1252.6 853.1 1254.9 852.1C1257.2 851.2 1260.1 848.6 1262.4 847.6C1264.7 846.6 1266.6 846.5 1268.7 846.3C1270.8 846.2 1272.7 847.5 1275.0 846.8C1277.3 846.2 1280.1 843.6 1282.6 842.6C1285.1 841.6 1287.6 841.1 1290.1 840.8C1292.6 840.5 1295.2 840.5 1297.7 840.8C1300.2 841.1 1302.5 841.7 1305.2 842.6C1307.9 843.4 1311.3 844.6 1314.0 845.8C1316.7 847.1 1319.1 848.4 1321.6 850.1C1324.1 851.9 1326.4 854.7 1329.1 856.4C1331.8 858.1 1335.2 858.7 1337.9 860.2C1340.7 861.6 1343.0 863.8 1345.5 865.2C1348.0 866.6 1350.9 867.2 1353.0 868.5C1355.1 869.7 1356.4 870.8 1358.1 872.8C1359.7 874.7 1361.5 878.4 1363.1 880.3C1364.7 882.2 1366.2 883.5 1367.6 884.1C1369.1 884.6 1370.6 883.4 1371.9 883.6C1373.2 883.8 1374.4 884.2 1375.7 885.3C1376.9 886.5 1377.7 889.5 1379.5 890.4C1381.2 891.2 1385.1 890.4 1386.2 890.4"/>
<path class="c" stroke="#EE4040" d="M68.8 904.1C73.6 904.0 86.6 903.6 97.8 903.4C108.9 903.2 124.2 902.9 135.5 902.9C146.8 902.8 156.5 902.6 165.7 902.9C174.9 903.2 182.5 903.7 190.8 904.6C199.2 905.6 207.6 906.7 216.0 908.4C224.4 910.1 232.8 912.7 241.2 914.7C249.6 916.7 258.0 918.7 266.3 920.5C274.7 922.3 283.1 924.1 291.5 925.5C299.9 926.9 308.3 928.0 316.7 929.0C325.1 930.1 334.3 931.2 341.8 931.8C349.4 932.4 354.8 932.7 362.0 932.8C369.1 932.9 378.3 932.6 384.6 932.3C390.9 932.0 396.3 931.6 399.7 931.0C403.1 930.5 402.6 929.4 405.2 929.3C407.7 929.2 411.9 930.0 415.2 930.5C418.6 931.0 421.9 931.9 425.3 932.3C428.6 932.7 432.0 933.3 435.4 933.1C438.7 932.9 442.1 931.5 445.4 931.0C448.8 930.6 451.7 930.2 455.5 930.3C459.3 930.4 463.7 931.0 468.1 931.8C472.5 932.6 477.7 934.9 481.9 935.3C486.1 935.7 489.3 934.4 493.2 934.1C497.2 933.7 501.6 933.8 505.8 933.1C510.0 932.3 513.4 930.9 518.4 929.8C523.4 928.7 529.7 927.6 536.0 926.5C542.3 925.5 548.6 924.4 556.1 923.5C563.7 922.6 572.9 921.7 581.3 921.0C589.7 920.3 598.1 919.8 606.5 919.2C614.9 918.7 623.3 918.2 631.6 917.7C640.0 917.2 648.4 917.0 656.8 916.5C665.2 915.9 674.0 915.3 682.0 914.7C689.9 914.1 697.4 913.2 704.6 912.9C711.8 912.6 715.4 913.1 725.2 912.9C734.9 912.8 752.4 912.3 762.9 912.2C773.4 912.0 782.0 912.2 788.1 912.2C794.2 912.2 796.7 911.5 799.4 912.2C802.1 912.8 802.8 913.6 804.4 916.0C806.1 918.3 807.8 922.7 809.5 926.0C811.1 929.4 812.9 933.4 814.5 936.1C816.0 938.8 817.4 941.1 818.8 942.4C820.2 943.6 821.5 943.9 822.8 943.6C824.1 943.3 825.2 942.7 826.6 940.6C827.9 938.5 829.3 934.3 830.9 931.0C832.4 927.8 834.0 923.5 835.9 921.0C837.8 918.5 838.8 917.2 842.2 916.0C845.5 914.7 849.5 914.1 856.0 913.4C862.5 912.8 871.5 912.5 881.2 912.2C890.8 911.8 904.7 911.5 913.9 911.4C923.1 911.3 930.9 911.2 936.5 911.4C942.2 911.7 944.7 912.0 947.9 912.9C951.0 913.8 953.1 914.9 955.4 916.7C957.7 918.5 959.6 920.5 961.7 923.5C963.8 926.5 965.9 931.0 968.0 934.8C970.1 938.6 972.4 943.2 974.3 946.1C976.2 949.1 977.7 951.1 979.3 952.4C980.9 953.8 982.4 954.3 983.8 954.2C985.3 954.1 986.6 953.4 988.1 951.7C989.7 949.9 991.5 945.8 993.2 943.6C994.8 941.5 996.6 939.5 998.2 938.6C999.8 937.7 1001.3 937.5 1002.7 938.1C1004.2 938.7 1005.2 939.8 1007.0 942.4C1008.8 945.0 1011.2 950.3 1013.3 953.7C1015.4 957.0 1017.7 960.5 1019.6 962.5C1021.5 964.5 1023.3 965.2 1024.6 965.8C1026.0 966.3 1026.5 966.3 1027.6 965.8C1028.8 965.2 1030.3 964.5 1031.7 962.5C1033.0 960.5 1034.4 956.2 1035.9 953.7C1037.5 951.2 1039.1 948.8 1041.0 947.4C1042.9 946.0 1045.2 945.0 1047.3 945.4C1049.4 945.8 1051.3 948.3 1053.6 949.9C1055.9 951.5 1058.6 953.1 1061.1 955.0C1063.6 956.8 1066.4 959.5 1068.7 960.7C1071.0 962.0 1072.9 962.5 1075.0 962.5C1077.1 962.5 1079.2 961.7 1081.3 960.7C1083.4 959.8 1085.7 958.7 1087.5 956.7C1089.4 954.7 1090.9 950.6 1092.6 948.7C1094.3 946.7 1095.5 945.4 1097.6 944.9C1099.7 944.3 1102.7 945.4 1105.2 945.4C1107.7 945.4 1110.4 945.5 1112.7 944.9C1115.0 944.3 1116.9 942.5 1119.0 941.6C1121.1 940.8 1123.2 939.9 1125.3 939.9C1127.4 939.8 1129.7 940.8 1131.6 941.1C1133.5 941.4 1134.7 942.3 1136.6 941.9C1138.5 941.5 1140.8 939.8 1142.9 938.6C1145.0 937.4 1146.9 935.7 1149.2 934.8C1151.5 934.0 1154.4 933.6 1156.8 933.6C1159.1 933.6 1161.4 934.0 1163.0 934.8C1164.7 935.7 1165.6 936.9 1166.8 938.6C1168.1 940.3 1169.3 943.5 1170.6 944.9C1171.8 946.3 1173.1 947.0 1174.4 946.9C1175.6 946.8 1176.9 944.8 1178.1 944.1C1179.4 943.5 1180.7 942.6 1181.9 943.1C1183.2 943.7 1184.2 945.0 1185.7 947.4C1187.2 949.8 1189.0 953.9 1190.7 957.5C1192.4 961.0 1194.1 965.2 1195.8 968.8C1197.4 972.4 1199.3 976.4 1200.8 978.9C1202.3 981.3 1203.4 982.6 1204.6 983.4C1205.7 984.1 1206.4 983.8 1207.6 983.4C1208.8 983.0 1210.4 981.6 1211.6 980.9C1212.9 980.1 1214.0 979.0 1215.1 978.9C1216.3 978.7 1217.2 979.3 1218.4 980.1C1219.6 981.0 1221.0 983.2 1222.2 983.9C1223.4 984.6 1224.3 984.9 1225.5 984.4C1226.6 983.9 1227.9 983.3 1229.2 980.9C1230.6 978.5 1231.9 973.7 1233.5 970.0C1235.1 966.4 1236.9 961.7 1238.5 958.7C1240.2 955.8 1241.7 953.9 1243.6 952.4C1245.5 951.0 1247.8 950.6 1249.9 949.9C1252.0 949.2 1254.1 949.1 1256.2 948.2C1258.2 947.2 1260.3 945.1 1262.4 944.4C1264.5 943.6 1266.6 943.7 1268.7 943.6C1270.8 943.6 1272.7 944.6 1275.0 944.1C1277.3 943.6 1280.1 941.4 1282.6 940.6C1285.1 939.8 1287.2 939.5 1290.1 939.4C1293.1 939.2 1296.8 939.3 1300.2 939.9C1303.5 940.4 1306.9 941.3 1310.2 942.4C1313.6 943.4 1317.0 944.7 1320.3 946.1C1323.7 947.6 1327.0 949.7 1330.4 951.2C1333.7 952.6 1337.3 953.7 1340.5 955.0C1343.6 956.2 1346.5 957.5 1349.2 958.7C1352.0 960.0 1354.7 960.8 1356.8 962.5C1358.9 964.2 1360.2 966.7 1361.8 968.8C1363.5 970.9 1365.0 973.7 1366.9 975.1C1368.8 976.4 1371.1 976.4 1373.2 976.8C1375.3 977.3 1377.3 977.5 1379.5 977.6C1381.6 977.7 1385.1 977.6 1386.2 977.6"/>
<path class="c" stroke="#000000" d="M68.8 985.9C72.4 985.8 81.2 985.4 90.2 985.1C99.2 984.9 111.2 984.4 122.9 984.4C134.7 984.4 149.3 984.8 160.7 985.1C172.0 985.5 181.6 985.7 190.8 986.4C200.1 987.1 207.6 988.4 216.0 989.4C224.4 990.5 232.8 991.6 241.2 992.7C249.6 993.8 258.0 994.8 266.3 996.0C274.7 997.1 283.1 998.5 291.5 999.5C299.9 1000.5 309.1 1001.3 316.7 1002.0C324.2 1002.8 331.3 1003.6 336.8 1004.0C342.3 1004.4 343.1 1004.6 349.4 1004.5C355.7 1004.4 367.0 1003.9 374.5 1003.5C382.1 1003.1 389.6 1002.6 394.7 1002.0C399.8 1001.5 400.1 1000.4 405.2 1000.2C410.3 1000.1 418.6 1001.1 425.3 1001.0C432.0 1000.9 439.6 1000.0 445.4 999.7C451.3 999.5 455.9 999.4 460.5 999.7C465.1 1000.0 469.5 1000.9 473.1 1001.5C476.7 1002.1 478.6 1003.5 481.9 1003.5C485.3 1003.5 489.3 1002.0 493.2 1001.5C497.2 1001.0 501.6 1001.3 505.8 1000.8C510.0 1000.2 512.1 999.4 518.4 998.5C524.7 997.6 535.2 996.0 543.6 995.2C551.9 994.5 560.3 994.3 568.7 994.0C577.1 993.6 585.5 993.4 593.9 993.2C602.3 993.0 610.7 993.0 619.0 993.0C627.4 992.9 635.8 992.9 644.2 992.7C652.6 992.5 660.2 992.3 669.4 991.9C678.6 991.6 690.3 990.8 699.6 990.7C708.9 990.6 715.9 991.4 725.2 991.4C734.5 991.4 745.7 990.8 755.4 990.7C765.0 990.6 775.5 990.9 783.0 990.9C790.6 991.0 796.7 990.6 800.6 990.9C804.6 991.2 804.9 991.6 807.0 992.7C809.0 993.8 811.3 996.3 813.2 997.7C815.2 999.1 817.2 1000.4 818.8 1001.0C820.4 1001.6 821.4 1001.7 822.8 1001.5C824.2 1001.3 825.3 1000.9 827.1 999.7C828.8 998.6 831.1 996.0 833.4 994.7C835.7 993.4 837.1 992.6 840.9 991.9C844.7 991.3 849.3 991.0 856.0 990.7C862.7 990.4 871.5 990.3 881.2 990.2C890.8 990.1 904.7 990.2 913.9 990.2C923.1 990.2 930.9 990.0 936.5 990.2C942.2 990.4 944.7 990.7 947.9 991.4C951.0 992.2 953.1 993.2 955.4 994.7C957.7 996.2 959.6 997.6 961.7 1000.2C963.8 1002.9 965.9 1007.2 968.0 1010.3C970.1 1013.5 972.4 1016.8 974.3 1019.1C976.2 1021.4 977.7 1023.1 979.3 1024.2C980.9 1025.2 982.4 1025.5 983.8 1025.4C985.3 1025.3 986.6 1024.7 988.1 1023.4C989.7 1022.1 991.5 1019.6 993.2 1017.9C994.8 1016.1 996.6 1013.9 998.2 1012.8C999.8 1011.8 1001.2 1011.4 1002.7 1011.6C1004.3 1011.8 1005.7 1012.6 1007.5 1014.1C1009.3 1015.6 1011.3 1018.5 1013.3 1020.4C1015.3 1022.3 1017.7 1024.2 1019.6 1025.4C1021.5 1026.6 1023.4 1027.1 1024.6 1027.4C1025.9 1027.8 1026.0 1027.8 1027.1 1027.4C1028.3 1027.1 1030.0 1027.0 1031.7 1025.4C1033.3 1023.8 1035.6 1019.5 1037.2 1017.9C1038.7 1016.2 1039.5 1016.3 1041.0 1015.3C1042.5 1014.4 1044.1 1012.5 1046.0 1012.3C1047.9 1012.2 1049.8 1013.7 1052.3 1014.6C1054.8 1015.5 1058.4 1016.9 1061.1 1017.9C1063.9 1018.8 1066.4 1019.8 1068.7 1020.4C1071.0 1020.9 1072.7 1021.2 1075.0 1021.1C1077.3 1021.0 1080.2 1020.7 1082.5 1019.9C1084.8 1019.0 1086.9 1017.3 1088.8 1016.1C1090.7 1014.9 1092.2 1013.4 1093.8 1012.8C1095.5 1012.3 1096.8 1012.7 1098.9 1012.8C1101.0 1013.0 1103.9 1013.6 1106.4 1013.6C1108.9 1013.6 1111.5 1013.2 1114.0 1012.8C1116.5 1012.5 1119.0 1011.6 1121.5 1011.6C1124.0 1011.6 1126.6 1012.4 1129.1 1012.8C1131.6 1013.2 1134.3 1014.3 1136.6 1014.1C1138.9 1013.9 1140.8 1012.5 1142.9 1011.6C1145.0 1010.6 1146.9 1009.3 1149.2 1008.5C1151.5 1007.8 1154.4 1007.4 1156.8 1007.3C1159.1 1007.2 1161.2 1007.1 1163.0 1007.8C1164.9 1008.5 1166.6 1010.5 1168.1 1011.6C1169.5 1012.6 1170.4 1013.9 1171.8 1014.1C1173.3 1014.3 1175.2 1013.2 1176.9 1012.8C1178.6 1012.5 1180.2 1011.7 1181.9 1012.1C1183.6 1012.5 1185.3 1014.0 1187.0 1015.3C1188.6 1016.7 1190.1 1018.4 1192.0 1020.4C1193.9 1022.4 1196.4 1025.3 1198.3 1027.2C1200.2 1029.1 1201.8 1030.9 1203.3 1031.7C1204.8 1032.5 1205.8 1032.3 1207.1 1032.2C1208.3 1032.1 1209.6 1031.4 1210.8 1031.0C1212.1 1030.5 1213.4 1029.7 1214.6 1029.7C1215.9 1029.7 1217.1 1030.5 1218.4 1031.0C1219.7 1031.4 1220.9 1032.3 1222.2 1032.5C1223.4 1032.7 1224.5 1033.0 1226.0 1032.2C1227.4 1031.4 1229.1 1030.0 1231.0 1027.9C1232.9 1025.9 1235.0 1022.1 1237.3 1019.9C1239.6 1017.6 1242.3 1015.7 1244.8 1014.6C1247.3 1013.5 1249.9 1013.8 1252.4 1013.3C1254.9 1012.8 1257.4 1012.2 1259.9 1011.6C1262.4 1011.0 1265.0 1009.9 1267.5 1009.8C1270.0 1009.7 1272.5 1010.9 1275.0 1010.8C1277.5 1010.8 1279.6 1009.9 1282.6 1009.6C1285.5 1009.3 1289.3 1008.9 1292.6 1009.0C1296.0 1009.2 1299.3 1009.8 1302.7 1010.3C1306.1 1010.9 1309.4 1011.6 1312.8 1012.3C1316.1 1013.1 1319.5 1013.9 1322.8 1014.8C1326.2 1015.8 1329.5 1016.8 1332.9 1017.9C1336.3 1018.9 1339.6 1019.9 1343.0 1021.1C1346.3 1022.4 1350.3 1024.2 1353.0 1025.4C1355.8 1026.7 1357.4 1027.5 1359.3 1028.7C1361.2 1029.8 1362.5 1031.4 1364.3 1032.2C1366.2 1033.0 1368.5 1033.2 1370.6 1033.7C1372.7 1034.3 1374.3 1035.1 1376.9 1035.5C1379.5 1035.9 1384.7 1035.9 1386.2 1036.0"/>
<line class="d" x1="447.5" y1="99.9" x2="447.5" y2="717.0"/><path class="ah" d="M447.5 70.2L455.3 102.4L447.5 93.0L439.7 102.4Z"/>
<line class="d" x1="517.7" y1="102.5" x2="517.7" y2="1028.0"/><path class="ah" d="M517.7 72.8L525.5 105.0L517.7 95.6L509.9 105.0Z"/>
<line class="d" x1="407.0" y1="201.8" x2="407.0" y2="713.0"/><path class="ah" d="M407.0 172.1L414.8 204.3L407.0 194.9L399.2 204.3Z"/>
<line class="d" x1="821.0" y1="112.1" x2="821.0" y2="1036.7"/><path class="ah" d="M821.0 82.4L828.8 114.6L821.0 105.2L813.2 114.6Z"/>
<line class="d" x1="974.6" y1="112.1" x2="974.6" y2="484.4"/><path class="ah" d="M974.6 82.4L982.4 114.6L974.6 105.2L966.8 114.6Z"/>
<line class="d" x1="1076.7" y1="112.1" x2="1076.7" y2="1038.0"/><path class="ah" d="M1076.7 82.4L1084.5 114.6L1076.7 105.2L1068.9 114.6Z"/>
<line class="dt" x1="1253.7" y1="105.2" x2="1253.7" y2="431.6"/><path class="ah" d="M1253.7 75.5L1261.5 107.7L1253.7 98.3L1245.9 107.7Z"/>
<line class="dt" x1="1333.1" y1="102.1" x2="1333.1" y2="417.7"/><path class="ah" d="M1333.1 72.4L1340.9 104.6L1333.1 95.2L1325.3 104.6Z"/>
<line class="d" x1="982.8" y1="627.9" x2="982.8" y2="1036.7"/><path class="ah" d="M982.8 598.2L990.6 630.4L982.8 621.0L975.0 630.4Z"/>
<line class="d" x1="1025.8" y1="700.3" x2="1025.8" y2="1036.7"/><path class="ah" d="M1025.8 670.6L1033.6 702.8L1025.8 693.4L1018.0 702.8Z"/>
<line class="d" x1="1202.0" y1="699.6" x2="1202.0" y2="1033.0"/><path class="ah" d="M1202.0 669.9L1209.8 702.1L1202.0 692.7L1194.2 702.1Z"/>
<line class="d" x1="327.8" y1="809.2" x2="327.8" y2="1028.0"/><path class="ah" d="M327.8 779.5L335.6 811.7L327.8 802.3L320.0 811.7Z"/>
<path d="M65.4 0V1066.1H1391" fill="none" stroke="#000" stroke-width="5.8"/>
<path d="M62.5 2.3H1391" fill="none" stroke="#000" stroke-width="4.8"/>
<path d="M1388.6 0V1069" fill="none" stroke="#000" stroke-width="5.8"/>
<line x1="65.4" y1="1066" x2="65.4" y2="1086.7" stroke="#000" stroke-width="5.6"/><text x="65.4" y="1128.3" font-size="35" text-anchor="middle">4000</text>
<line x1="220.9" y1="1066" x2="220.9" y2="1086.7" stroke="#000" stroke-width="5.6"/><text x="220.9" y="1128.3" font-size="35" text-anchor="middle">3600</text>
<line x1="376.5" y1="1066" x2="376.5" y2="1086.7" stroke="#000" stroke-width="5.6"/><text x="376.5" y="1128.3" font-size="35" text-anchor="middle">3200</text>
<line x1="532.0" y1="1066" x2="532.0" y2="1086.7" stroke="#000" stroke-width="5.6"/><text x="532.0" y="1128.3" font-size="35" text-anchor="middle">2800</text>
<line x1="687.6" y1="1066" x2="687.6" y2="1086.7" stroke="#000" stroke-width="5.6"/><text x="687.6" y="1128.3" font-size="35" text-anchor="middle">2400</text>
<line x1="843.1" y1="1066" x2="843.1" y2="1086.7" stroke="#000" stroke-width="5.6"/><text x="843.1" y="1128.3" font-size="35" text-anchor="middle">2000</text>
<line x1="998.6" y1="1066" x2="998.6" y2="1086.7" stroke="#000" stroke-width="5.6"/><text x="998.6" y="1128.3" font-size="35" text-anchor="middle">1600</text>
<line x1="1154.2" y1="1066" x2="1154.2" y2="1086.7" stroke="#000" stroke-width="5.6"/><text x="1154.2" y="1128.3" font-size="35" text-anchor="middle">1200</text>
<line x1="1309.7" y1="1066" x2="1309.7" y2="1086.7" stroke="#000" stroke-width="5.6"/><text x="1309.7" y="1128.3" font-size="35" text-anchor="middle">800</text>
<text x="728.4" y="1194.8" font-size="35" text-anchor="middle">Wavenumber (cm<tspan font-size="23" dy="-14.5">-1</tspan><tspan dy="14.5">)</tspan></text>
<text transform="translate(25.3 534) rotate(-90)" font-size="35" text-anchor="middle">Transmitance (a.u.)</text>
<rect x="73.3" y="57.5" width="188.4" height="43.3" fill="#ff0"/><text class="b" x="76.8" y="90.3" font-size="30">CGNHSCN48</text>
<rect x="75.5" y="334" width="189.4" height="43.9" fill="#ff0"/><text class="b" x="79.6" y="365.9" font-size="30">CGNHSCN40</text>
<rect x="73.1" y="561.2" width="189" height="43.3" fill="#ff0"/><text class="b" x="77.5" y="593.8" font-size="30">CGNHSCN32</text>
<rect x="73.3" y="746.7" width="188.4" height="43.1" fill="#ff0"/><text class="b" x="77.5" y="778" font-size="30">CGNHSCN24</text>
<rect x="73.1" y="847.5" width="189" height="42.5" fill="#ff0"/><text class="b" x="77.6" y="878.2" font-size="30">CGNHSCN16</text>
<rect x="73.1" y="926.5" width="173.1" height="42.3" fill="#ff0"/><text class="b" x="77.6" y="957.5" font-size="30">CGNHSCN8</text>
<text class="b" x="402" y="41.1" font-size="35">N-H</text>
<text class="b" x="489.2" y="41.1" font-size="35">C-H</text>
<text class="b" x="365.9" y="161.6" font-size="35">O-H</text>
<text class="b" x="772.4" y="39.8" font-size="35">-S-C≡N</text>
<text class="b" x="957.5" y="41.2" font-size="35">C≡N</text>
<text class="b" x="1057.3" y="41.9" font-size="35">C-S</text>
<text class="b" x="1212.4" y="45.2" font-size="35">SCN</text>
<text class="b" x="1303.6" y="43.6" font-size="35">C-S</text>
<text class="b" x="941.1" y="591.2" font-size="35">N-H</text>
<text class="b" x="987.6" y="665.7" font-size="35">O-H</text>
<text class="b" x="1167.3" y="668.2" font-size="35">C-O</text>
<text class="b" x="311.9" y="771.8" font-size="35">O-H, N-H</text>
</svg></body></html>
